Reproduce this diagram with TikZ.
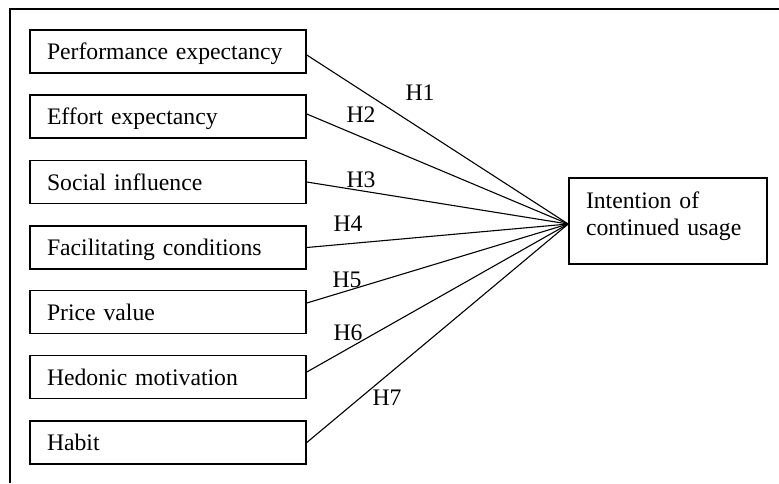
\documentclass[tikz,border=0pt]{standalone}
\usepackage{fontspec}
\setmainfont{Liberation Serif}

\begin{document}
\begin{tikzpicture}[x=1pt,y=-1pt,
        factor/.style={draw,line width=1.6pt,rectangle,minimum height=43pt,text width=242pt,inner xsep=17pt,inner ysep=0pt,
                        text height=16.5pt,text depth=0pt,align=left,font=\fontsize{23.7}{27}\selectfont},
        outcome/.style={draw,line width=1.6pt,rectangle,minimum width=198pt,minimum height=86pt,text width=164pt,inner xsep=17pt,
                        inner ysep=0pt,text height=16pt,text depth=42pt,align=left,font=\fontsize{23.7}{27}\selectfont},
        link/.style={line width=1.1pt},
        hyp/.style={inner sep=0pt,font=\fontsize{23.7}{27}\selectfont}]

                                \useasboundingbox (0,0) rectangle (779,483);
                                \draw[line width=2.4pt] (10,483) -- (10,9) -- (779,9);

                                % constructs
                                \node[factor] (pe) at (168,51.5) {Performance expectancy};
                                \node[factor] (ee) at (168,116.5) {Effort expectancy};
                                \node[factor] (si) at (168,182) {Social influence};
                                \node[factor] (fc) at (168,247.5) {Facilitating conditions};
                                \node[factor] (pv) at (168,312) {Price value};
                                \node[factor] (hm) at (168,377) {Hedonic motivation};
                                \node[factor] (hb) at (168,442.5) {Habit};

                                \node[outcome] (icu) at (668,221) {Intention of\\continued usage};
                                \coordinate (hub) at ([yshift=-3pt]icu.west);

                                % hypotheses
                                \draw[link] ([yshift=-3.5pt]pe.east) -- (hub);
                                \draw[link] ([yshift=2.5pt]ee.east) -- (hub);
                                \draw[link] (si.east) -- (hub);
                                \draw[link] (fc.east) -- (hub);
                                \draw[link] ([yshift=9pt]pv.east) -- (hub);
                                \draw[link] ([yshift=5pt]hm.east) -- (hub);
                                \draw[link] (hb.east) -- (hub);

                                \node[hyp] (h1) at (420,93) {H1};
                                \node[hyp] (h2) at (361,115) {H2};
                                \node[hyp] (h3) at (361,180) {H3};
                                \node[hyp] (h4) at (348,224) {H4};
                                \node[hyp] (h5) at (347,280) {H5};
                                \node[hyp] (h6) at (348,333) {H6};
                                \node[hyp] (h7) at (387,398) {H7};
                            \end{tikzpicture}
\end{document}
